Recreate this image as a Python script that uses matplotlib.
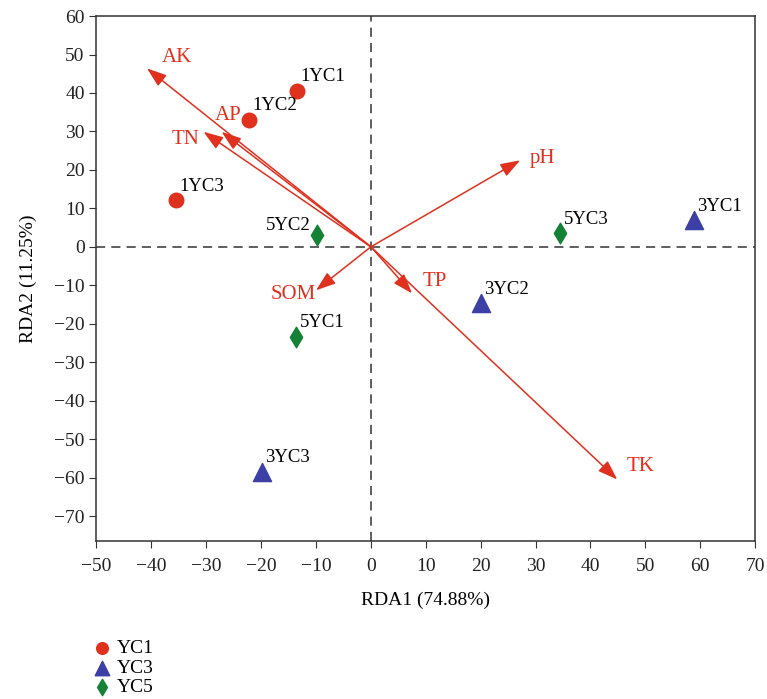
#!/usr/bin/env python3

import matplotlib
matplotlib.use('Agg')
import matplotlib.pyplot as plt

plt.rcParams['font.family'] = ['Liberation Serif', 'DejaVu Serif']

# sample scores
yc1_names = ['1YC1', '1YC2', '1YC3']
yc1_x = [-13.4, -22.2, -35.5]
yc1_y = [40.5, 33.0, 12.1]

yc3_names = ['3YC1', '3YC2', '3YC3']
yc3_x = [58.8, 20.1, -19.8]
yc3_y = [6.9, -14.7, -58.6]

yc5_names = ['5YC1', '5YC2', '5YC3']
yc5_x = [-13.6, -9.8, 34.5]
yc5_y = [-23.5, 3.0, 3.5]

# environmental factor arrows
env_names = ['AK', 'AP', 'TN', 'pH', 'TP', 'SOM', 'TK']
env_x = [-40.8, -27.2, -30.5, 27.2, 7.5, -10.0, 44.9]
env_y = [46.4, 29.9, 29.9, 22.5, -12.1, -11.3, -60.5]

red = '#E0301E'
blue = '#3C3FA4'
green = '#148234'


def add_labels(ax, names, xs, ys):
    for n, x, y in zip(names, xs, ys):
        if n == '5YC2':
            ax.text(x - 1.2, y + 2.5, n, fontsize=13.5, ha='right', va='center')
        else:
            ax.text(x + 0.6, y + 1.5, n, fontsize=13.5, ha='left', va='bottom')


if __name__ == '__main__':
    fig = plt.figure(figsize=(7.67, 6.99), dpi=100)
    ax = fig.add_axes([0.1258, 0.226, 0.8586, 0.751])

    ax.axhline(0, color='#333333', ls=(0, (6, 4)), lw=1.1, zorder=1)
    ax.axvline(0, color='#333333', ls=(0, (6, 4)), lw=1.1, zorder=1)

    for n, x, y in zip(env_names, env_x, env_y):
        ax.annotate('', xy=(x, y), xytext=(0, 0),
                    arrowprops=dict(arrowstyle='-|>,head_length=1.2,head_width=0.42',
                                    color=red, lw=1.1, shrinkA=0, shrinkB=0),
                    zorder=2)

    label_pos = {'AK': (-35.3, 49.3), 'AP': (-26.0, 34.2), 'TN': (-33.7, 28.0),
                 'pH': (31.3, 23.0), 'TP': (11.6, -9.0), 'SOM': (-14.2, -12.3),
                 'TK': (49.1, -57.0)}
    for n in env_names:
        lx, ly = label_pos[n]
        ax.text(lx, ly, n, color=red, fontsize=15, ha='center', va='center')

    ax.scatter(yc1_x, yc1_y, marker='o', s=110, color=red, label='YC1', zorder=3)
    ax.scatter(yc3_x, yc3_y, marker='^', s=170, color=blue, label='YC3', zorder=3)
    ax.scatter(yc5_x, yc5_y, marker='d', s=110, color=green, label='YC5', zorder=3)

    add_labels(ax, yc1_names, yc1_x, yc1_y)
    add_labels(ax, yc3_names, yc3_x, yc3_y)
    add_labels(ax, yc5_names, yc5_x, yc5_y)

    ax.set_xlim(-50, 70)
    ax.set_ylim(-76.5, 60)
    ax.set_xticks(range(-50, 71, 10))
    ax.set_yticks(range(-70, 61, 10))
    ax.tick_params(labelsize=14, direction='out', length=5, color='#333333',
                   labelcolor='#222222')
    ax.tick_params(axis='x', pad=7)
    for s in ax.spines.values():
        s.set_color('#333333')
        s.set_linewidth(1.1)
    ax.set_xlabel('RDA1 (74.88%)', fontsize=14, labelpad=12)
    ax.set_ylabel('RDA2 (11.25%)', fontsize=14, labelpad=12)

    fig.legend(loc='upper left', bbox_to_anchor=(0.107, 0.099), frameon=False,
               fontsize=14, handletextpad=0.3, labelspacing=0.1,
               borderpad=0, handlelength=1.0, markerscale=0.8)

    plt.savefig('out.png', dpi=100)
    plt.close()
